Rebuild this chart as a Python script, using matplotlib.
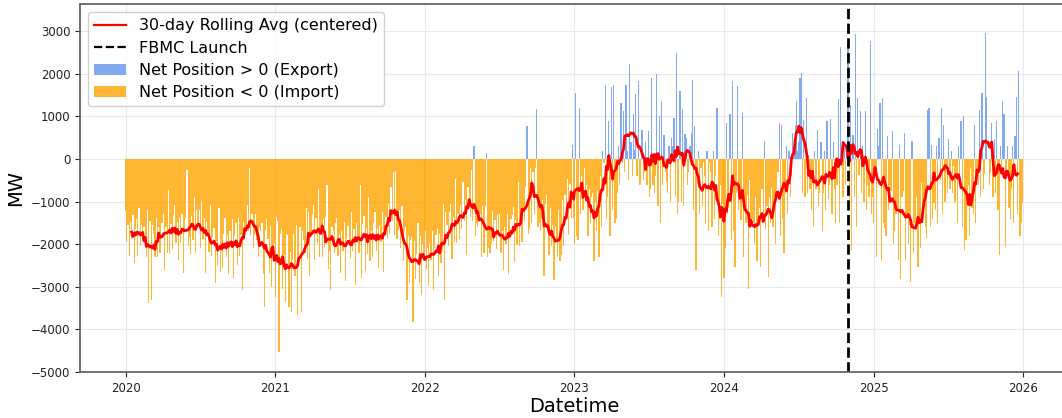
import numpy as np
import pandas as pd
import matplotlib
matplotlib.use("Agg")
import matplotlib.pyplot as plt
import matplotlib.dates as mdates
from matplotlib.lines import Line2D
from matplotlib.patches import Patch

# Net position (MW), one value per 3-day block, starting on 1 January of each year
net_2020 = [
    -1230, -1950, -1550, -2270, -1470, -1880, -1320, -2440, -1640, -1400,
    -2250, -1150, -2050, -1550, -1850, -1590, -1890, -2290, -1190, -3390,
    -1450, -3300, -1550, -1750, -2300, -1380, -2300, -1600, -2200, -1500,
    -1500, -1300, -2600, -1600, -2200, -720, -2220, -1520, -2120, -1320,
    -1080, -1980, -1480, -2380, -1380, -1980, -1280, -2680, -1680, -1380,
    -250, -2040, -1840, -2240, -1340, -1900, -900, -2200, -1200, -1600, -1200,
    -2080, -980, -1880, -1380, -2680, -1480, -1780, -2180, -1080, -2280,
    -1820, -1620, -2920, -1920, -2520, -1160, -2660, -1960, -2560, -1760,
    -1390, -2290, -1790, -2690, -1690, -2100, -1400, -2800, -1800, -1500,
    -2480, -1380, -2280, -1780, -3080, -1480, -1780, -1580, -1080, -1680,
    -200, -1780, -1280, -2080, -1780, -1300, -1900, -2300, -1600, -1700,
    -1500, -2700, -3480, -1700, -1400, -1880, -2680, -1580, -3000, -2080, -1980,
]
net_2021 = [
    -3240, -1350, -1450, -4540, -1750, -1650, -3050, -2250, -3350, -1750,
    -1780, -3480, -2180, -3580, -2380, -1750, -2750, -1550, -3650, -2450,
    -1600, -3600, -1700, -1900, -2200, -1150, -2350, -1250, -2750, -1750,
    -1280, -1080, -2380, -1380, -1980, -700, -2300, -1600, -2300, -1400,
    -2070, -1370, -600, -2570, -2170, -3080, -1600, -1700, -2200, -1500,
    -1380, -2280, -1780, -2680, -1680, -2170, -1470, -2870, -1870, -1570, -1970,
    -2350, -1250, -2150, -1650, -2950, -1500, -1800, -2200, -600, -2800,
    -1530, -1330, -2630, -1630, -2230, -900, -2400, -1700, -2300, -1500,
    -1250, -2150, -1650, -2550, -1550, -1950, -1250, -2650, -1650, -1350,
    -1850, -1050, -1750, -650, -1450, -300, -1780, -280, -1880, -1660,
    -1200, -2100, -1100, -2400, -1700, -1600, -3300, -1800, -2900, -1900,
    -1820, -3830, -1920, -2820, -2220, -1500, -2900, -1800, -3200, -2000, -2400,
]
net_2022 = [
    -1680, -2580, -2080, -2980, -1980, -2380, -1680, -3080, -2080, -1780,
    -1650, -2750, -1750, -2450, -2150, -1050, -3320, -1250, -1550, -2050,
    -1250, -1050, -2350, -1350, -1950, -480, -1980, -1280, -1880, -1080,
    -1650, -550, -1450, -950, -2250, -650, -950, -1350, -250, -1450,
    315, -1800, -1500, -1600, -1400, -1300, -2300, -1100, -2200, -1100,
    140, -2300, -2100, -2200, -2000, -1220, -1920, -1420, -2120, -1320, -1720,
    -1300, -2200, -1700, -2600, -1600, -2000, -1300, -2700, -1700, -1400,
    -1320, -1120, -2420, -1420, -2020, -550, -2050, -1350, -1950, -1150,
    -1450, -650, 770, -1750, -1650, -200, -1500, -300, -1300, -200,
    1180, -1600, -1500, -1700, -1400, -950, -2750, -1050, -850, -1650,
    -2250, -1150, -2050, -1550, -2850, -1600, -1900, -2300, -1200, -2400,
    -2250, -950, -2050, -850, -1150, -480, -1780, -580, -1380, 340, -1380,
]
net_2023 = [
    -2000, 1540, -1800, -1900, 1200, -1300, -400, -1200, -200, -1000,
    -600, -1800, -700, -1500, -900, -800, -2400, -1000, -1700, -750,
    -2300, -400, -1600, 200, -100, 1750, -1400, -900, 890, -1800,
    1680, -1200, 1730, -1500, -1400, -800, 300, -600, 1320, -100,
    1130, -300, 1730, 200, -500, 2230, 400, -400, 1050, 220,
    1520, -400, 1830, -600, -600, 690, -500, -300, 400, -600, 670,
    -900, -700, 1910, -600, -800, -400, 1990, -1100, 1010, -1500,
    1360, -600, 570, -300, -530, -800, 300, -1000, 500, 300,
    970, -900, 2480, -1300, -1000, 1600, -1000, 1170, -1100, 580,
    500, -600, -300, 300, 600, 1860, -1200, 770, -2600, -580,
    180, -1300, -200, -1100, -80, -400, -1500, 200, -1700, -100,
    -300, -1600, 200, -1400, -400, 1200, -1800, -1400, -600, -3240, -1060,
]
net_2024 = [
    -2800, -2100, 850, -1300, -1150, 1050, -1900, 1830, -1700, -2530,
    -800, 1720, -1200, -900, -1420, 1090, -2300, -1200, -1500, -840,
    -3050, -500, -1500, -1400, -1500, -2000, -900, -2400, -1500, -1150,
    -2530, -700, -1300, 420, -1640, -1100, -2770, -900, -1500, -680,
    -1600, -900, -2000, -700, -300, 850, -1800, 810, -1400, -2210,
    -800, 300, -1300, 200, -900, -400, 600, 300, 800, 1360, 200,
    400, 1910, 2030, -800, 910, -900, 1440, -800, 100, -700,
    -1200, -300, -1590, 200, -710, 690, -1100, -800, 400, -1690,
    -800, 200, -1200, 890, -940, -600, 950, -1300, 400, -700,
    -1500, -600, 1400, -1500, 2620, 280, -900, 250, -600, 270,
    2660, -1100, 1260, -2140, 570, -900, 2940, -1600, 1440, -380,
    1130, -800, 300, -1000, 1120, -1200, -600, -900, 2780, -1300, -880,
]
net_2025 = [
    -1500, -200, -2300, 700, 300, 1320, -2400, 1440, -1500, -1610,
    -1800, 540, -1200, -600, -740, 650, -2000, -1700, -1300, -1150,
    -2380, 340, -2810, -900, -750, 610, -2400, -1300, -2000, -1560,
    -2890, 420, -2200, -1500, -1580, -900, -2540, -1400, -2100, -560,
    -1300, -900, -1600, -1860, 1160, 1200, -1600, 340, -1400, -1040,
    -1200, 300, -1500, 500, -500, 1200, -1300, 790, -1000, -200, -790,
    460, -700, 200, -800, -160, -1000, -300, -1500, 300, -500,
    890, -1600, 1000, -2140, -1900, -1000, -600, -1800, -200, -1150,
    -1300, 810, -1500, -400, -610, 1160, -900, 1540, -700, -350,
    2970, 1460, 0, -600, -330, 850, -900, 460, -800, 890,
    -1200, -2260, 300, -200, 1360, 1050, -2060, -400, 300, -1140,
    -1400, -700, 300, -1500, 550, 1460, -1300, 2070, -1800, -1500, -1030,
]
years = [2020, 2021, 2022, 2023, 2024, 2025]
yearly_values = [net_2020, net_2021, net_2022, net_2023, net_2024, net_2025]

fbmc_launch = "2024-10-29"
rolling_days = 30
block_days = 3

# Assemble one time series from the yearly blocks
parts = []
for year, vals in zip(years, yearly_values):
    idx = pd.date_range(f"{year}-01-01", periods=len(vals), freq=f"{block_days}D")
    parts.append(pd.Series(vals, index=idx, dtype=float))
net = pd.concat(parts)
rolling = net.rolling(rolling_days // block_days, center=True).mean()

blue = "cornflowerblue"
orange = "orange"

fig = plt.figure(figsize=(10.62, 4.18), dpi=100)
ax = fig.add_axes([80 / 1062, 46 / 418, 988 / 1062, 368 / 418])

pos = net[net > 0]
neg = net[net <= 0]
bar_w = block_days
ax.bar(pos.index, pos.values, width=bar_w, color=blue, alpha=0.8, linewidth=0)
ax.bar(neg.index, neg.values, width=bar_w, color=orange, alpha=0.8, linewidth=0)
ax.plot(rolling.index, rolling.values, color="red", lw=2)
ax.axvline(pd.Timestamp(fbmc_launch), color="black", ls="--", lw=2)

ax.set_ylim(-5000, 3640)
ax.set_yticks(np.arange(-5000, 3001, 1000))
ax.xaxis.set_major_locator(mdates.YearLocator())
ax.xaxis.set_major_formatter(mdates.DateFormatter("%Y"))
ax.grid(True, color="#e8e8e8", lw=0.8)
ax.set_axisbelow(True)
ax.tick_params(labelsize=8.5, colors="#222222", length=3.5)
for sp in ax.spines.values():
    sp.set_color("#666666")
    sp.set_linewidth(1.3)

ax.set_xlabel("Datetime", fontsize=14, labelpad=2)
ax.set_ylabel("MW", fontsize=14, labelpad=4)

handles = [
    Line2D([], [], color="red", lw=1.6),
    Line2D([], [], color="black", ls="--", lw=1.6),
    Patch(facecolor=blue, alpha=0.8),
    Patch(facecolor=orange, alpha=0.8),
]
labels = [
    "30-day Rolling Avg (centered)",
    "FBMC Launch",
    "Net Position > 0 (Export)",
    "Net Position < 0 (Import)",
]
ax.legend(handles, labels, loc="upper left", fontsize=11.5, framealpha=0.9,
          borderpad=0.4, labelspacing=0.45, handletextpad=0.8)

fig.savefig("out.png", dpi=100)
